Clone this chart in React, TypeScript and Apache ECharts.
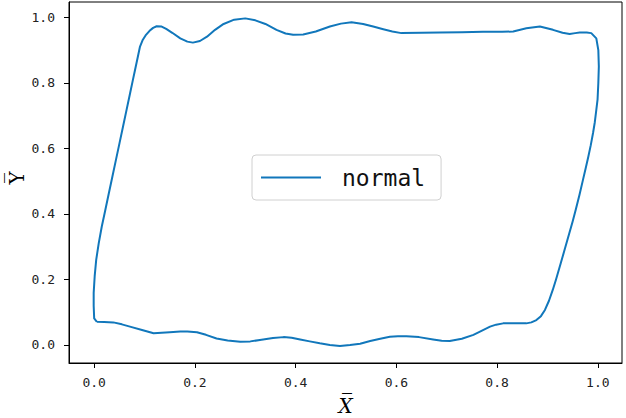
import React, { useEffect, useRef } from "react";
import * as echarts from "echarts";

const seriesName = "normal";
const tickValues = [0, 0.2, 0.4, 0.6, 0.8, 1.0];
const xTitle = "X\u0305";
const yTitle = "Y\u0305";

// closed loop, traced clockwise from the lower-left corner
const loopX = [
  0.005, 0.0, -0.001, -0.001, 0.001, 0.004, 0.009, 0.015, 0.0218, 0.0291, 0.0363, 0.0432, 0.0504, 0.0573, 0.0646, 0.0714,
  0.077, 0.0812, 0.0867, 0.091, 0.096, 0.102, 0.11, 0.117, 0.124, 0.134, 0.143, 0.155, 0.171, 0.185, 0.196, 0.21, 0.224,
  0.24, 0.257, 0.278, 0.3, 0.32, 0.34, 0.362, 0.38, 0.395, 0.415, 0.44, 0.468, 0.49, 0.511, 0.534, 0.554, 0.574,
  0.592, 0.61, 0.65, 0.686, 0.73, 0.772, 0.81, 0.832, 0.858, 0.885, 0.911, 0.93, 0.944, 0.955, 0.964, 0.978, 0.987,
  0.997, 1.001, 1.002, 1.001, 0.9995, 0.997, 0.994, 0.9905, 0.986, 0.981, 0.976, 0.9705, 0.9635, 0.956, 0.95, 0.9435,
  0.935, 0.9265, 0.917, 0.9105, 0.903, 0.895, 0.887, 0.878, 0.868, 0.858, 0.835, 0.812, 0.798, 0.786, 0.77, 0.753,
  0.73, 0.706, 0.69, 0.673, 0.645, 0.62, 0.603, 0.587, 0.568, 0.548, 0.528, 0.508, 0.488, 0.468, 0.448, 0.428,
  0.409, 0.392, 0.376, 0.355, 0.329, 0.31, 0.29, 0.265, 0.243, 0.222, 0.204, 0.185, 0.171, 0.15, 0.118, 0.095,
  0.071, 0.055, 0.038, 0.02, 0.005,
];
const loopY = [
  0.071, 0.081, 0.12, 0.159, 0.21, 0.26, 0.31, 0.361, 0.41, 0.463, 0.515, 0.565, 0.617, 0.667, 0.72, 0.769,
  0.81, 0.84, 0.88, 0.911, 0.93, 0.945, 0.959, 0.968, 0.973, 0.972, 0.965, 0.953, 0.936, 0.926, 0.923, 0.928, 0.941,
  0.962, 0.98, 0.993, 0.997, 0.991, 0.98, 0.962, 0.951, 0.947, 0.948, 0.957, 0.972, 0.981, 0.985, 0.98, 0.972, 0.964,
  0.957, 0.952, 0.953, 0.954, 0.955, 0.956, 0.956, 0.957, 0.967, 0.972, 0.962, 0.953, 0.949, 0.952, 0.954, 0.954, 0.952,
  0.936, 0.9, 0.85, 0.8, 0.75, 0.718, 0.68, 0.647, 0.61, 0.574, 0.54, 0.504, 0.458, 0.412, 0.377, 0.342,
  0.296, 0.25, 0.2, 0.168, 0.135, 0.107, 0.088, 0.076, 0.069, 0.066, 0.066, 0.066, 0.062, 0.056, 0.044, 0.031,
  0.019, 0.012, 0.013, 0.017, 0.024, 0.027, 0.027, 0.025, 0.019, 0.012, 0.004, 0.0, -0.003, 0.0, 0.005, 0.011,
  0.017, 0.022, 0.024, 0.021, 0.015, 0.011, 0.01, 0.014, 0.02, 0.031, 0.039, 0.041, 0.041, 0.039, 0.036, 0.046,
  0.056, 0.063, 0.069, 0.07, 0.071,
];

const lineColor = "#1177bb";

export default function App() {
  const ref = useRef<HTMLDivElement>(null);
  useEffect(() => {
    if (!ref.current) return;
    const chart = echarts.init(ref.current, null, { renderer: "svg" });
    const data = loopX.map((x, i) => [x, loopY[i]]);
    const tickFont = { fontFamily: "DejaVu Sans Mono", fontSize: 13, color: "#222" };
    chart.setOption({
      animation: false,
      backgroundColor: "#fff",
      grid: {
        left: 69,
        right: 4,
        top: 2,
        bottom: 55,
        outerBoundsMode: "none",
        containLabel: false,
        show: true,
        borderColor: "#000",
        borderWidth: 1,
        backgroundColor: "transparent",
      },
      graphic: [
        {
          type: "text",
          x: 17,
          y: 178,
          rotation: Math.PI / 2,
          style: {
            text: yTitle,
            fontFamily: "DejaVu Serif",
            fontSize: 20,
            fill: "#000",
            align: "center",
            verticalAlign: "middle",
          },
        },
      ],
      legend: {
        show: true,
        left: 252,
        top: 155,
        icon: "rect",
        itemWidth: 60,
        itemHeight: 2,
        padding: [11, 16, 11, 9],
        backgroundColor: "#fff",
        borderColor: "#d0d0d0",
        borderWidth: 1,
        borderRadius: 4,
        textStyle: {
          fontFamily: "DejaVu Sans Mono",
          fontSize: 23,
          color: "#111",
          padding: [0, 0, 0, 16],
        },
        data: [seriesName],
      },
      xAxis: {
        type: "value",
        min: -0.05,
        max: 1.048,
        name: xTitle,
        nameLocation: "middle",
        nameGap: 33,
        nameTextStyle: { fontFamily: "DejaVu Serif", fontStyle: "italic", fontSize: 20, color: "#000" },
        splitLine: { show: false },
        axisLine: { show: true, onZero: false, lineStyle: { color: "#000", width: 1 } },
        axisTick: { show: true, length: 5, inside: false, customValues: tickValues, lineStyle: { color: "#000" } },
        axisLabel: {
          ...tickFont,
          margin: 13,
          customValues: tickValues,
          formatter: (v: number) => v.toFixed(1),
        },
      },
      yAxis: {
        type: "value",
        min: -0.055,
        max: 1.047,
        splitLine: { show: false },
        axisLine: { show: true, onZero: false, lineStyle: { color: "#000", width: 1 } },
        axisTick: { show: true, length: 5, inside: false, customValues: tickValues, lineStyle: { color: "#000" } },
        axisLabel: {
          ...tickFont,
          margin: 14,
          customValues: tickValues,
          formatter: (v: number) => v.toFixed(1),
        },
      },
      series: [
        {
          name: seriesName,
          type: "line",
          data,
          showSymbol: false,
          symbol: "none",
          smooth: false,
          color: lineColor,
          lineStyle: { color: lineColor, width: 2, join: "round" },
        },
      ],
    });
    return () => chart.dispose();
  }, []);
  return (
    <div
      ref={ref}
      style={{ position: "absolute", left: 0, top: 0, width: 626, height: 418, background: "#fff" }}
    />
  );
}
